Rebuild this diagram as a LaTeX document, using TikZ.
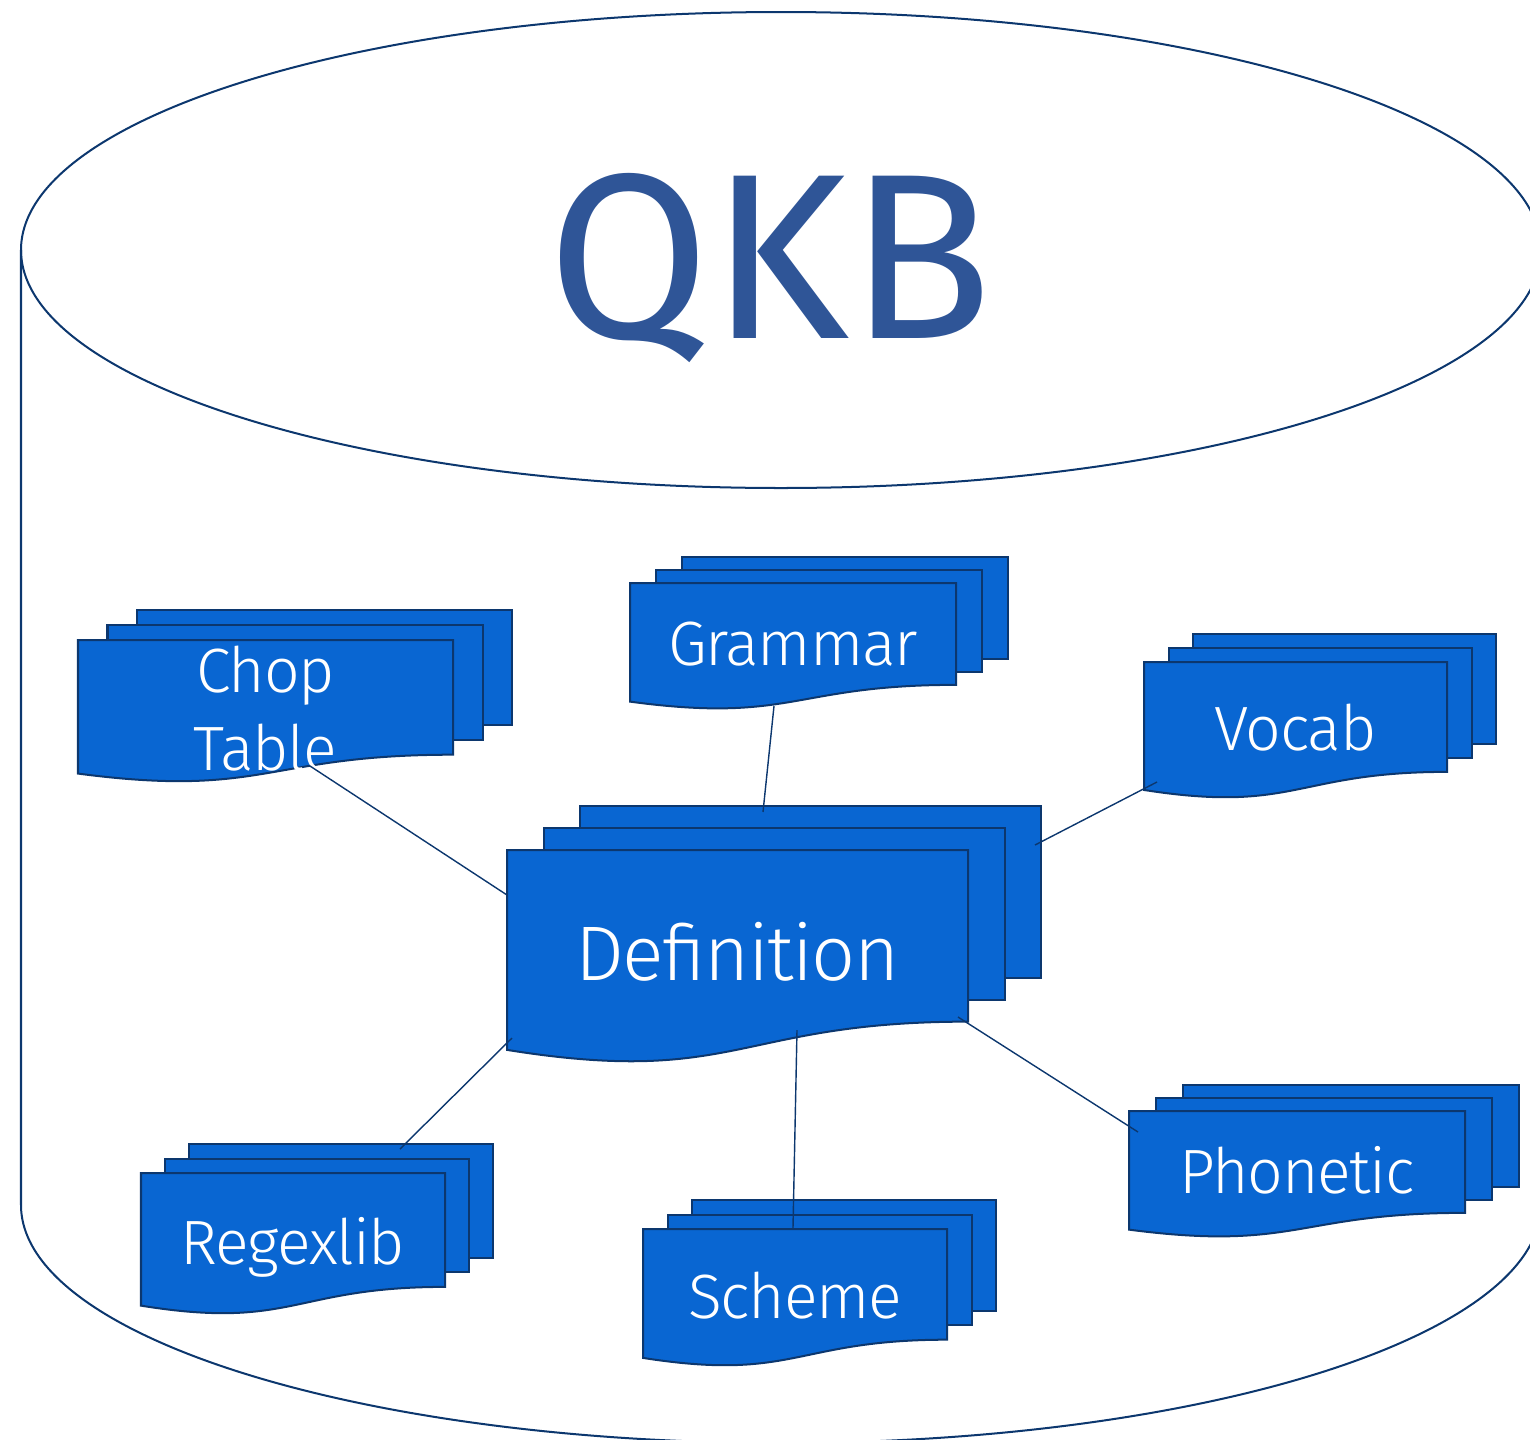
\documentclass[tikz,border=0pt]{standalone}
\usepackage{fontspec}
\setmainfont{Fira Sans}
\newfontfamily\lightfont{Fira Sans Light}[LetterSpace=-2]
\usetikzlibrary{calc}
\definecolor{docblue}{RGB}{9,102,210}
\definecolor{navy}{RGB}{12,55,110}
\definecolor{titleblue}{RGB}{47,85,151}
\tikzset{every picture/.style={line width=0.57pt}}
\tikzset{
  sheet/.style={draw=navy, fill=docblue, line join=miter},
  doclabel/.style={text=white, font=\lightfont\fontsize{17.8}{21.9}\selectfont, anchor=base, align=center, inner sep=0pt},
  link/.style={draw=navy, line width=0.4pt},
}
% 多文档: 名称, 左上角 x, y, 宽, 高, 偏移 dx, dy, 文字, 基线 y
\newcommand{\docstack}[9]{%
  \foreach \k in {2,1}
    \draw[sheet] ({#2+\k*#6},{#3-\k*#7}) rectangle ++(#4,{0.802*#5});
  \draw[sheet] (#2,#3) -- ({#2+#4},#3) -- ({#2+#4},{#3+0.802*#5})
    .. controls ({#2+0.5*#4},{#3+0.802*#5}) and ({#2+0.5*#4},{#3+1.107*#5}) .. (#2,{#3+0.934*#5}) -- cycle;
  \node[doclabel] (#1) at ({#2+0.5*#4},#9) {#8};
}

\begin{document}
\begin{tikzpicture}[x=0.01cm, y=-0.01cm]
    \useasboundingbox (0,0) rectangle (1530,1439);
    % 数据库圆柱
    \begin{scope}
        \clip (0,0) rectangle (1530,1439);
        \draw[navy] (21,250) -- (21,1205) arc[start angle=180, end angle=0, x radius=760, y radius=238] -- (1541,250);
        \draw[navy] (781,250) ellipse [x radius=760, y radius=238];
    \end{scope}
    \node[font=\fontsize{67}{80}\selectfont, text=titleblue, anchor=base, inner sep=0pt] (qkb) at (770,338) {QKB};
    % 文档堆叠
    \docstack{def}{507}{850}{461}{214}{36.5}{22}{\fontsize{22}{27}\selectfont Definition}{980}
    \docstack{chop}{78}{640}{375}{143}{29.5}{15}{Chop\\Table}{770}
    \docstack{gram}{630}{583}{326}{127}{26}{13}{Grammar}{665}
    \docstack{vocab}{1144}{662}{303}{137}{24.5}{14}{Vocab}{750}
    \docstack{regex}{141}{1173}{304}{142}{24}{14.5}{Regexlib}{1264}
    \docstack{scheme}{643}{1229}{304}{138}{24.5}{14.5}{Scheme}{1318}
    \docstack{phon}{1129}{1111}{336}{127}{27}{13}{Phonetic}{1193}
    % 连线端点
    \coordinate (chop-e) at (310,766);   \coordinate (def-w) at (507,895);
    \coordinate (gram-e) at (774,706);   \coordinate (def-n) at (763,812);
    \coordinate (vocab-e) at (1157,782); \coordinate (def-ne) at (1035,845);
    \coordinate (regex-e) at (400,1149); \coordinate (def-sw) at (512,1038);
    \coordinate (scheme-e) at (793,1228); \coordinate (def-s) at (797,1030);
    \coordinate (phon-e) at (1138,1132); \coordinate (def-se) at (958,1017);
    % 连线
    \draw[link] (chop-e) -- (def-w);
    \draw[link] (gram-e) -- (def-n);
    \draw[link] (vocab-e) -- (def-ne);
    \draw[link] (regex-e) -- (def-sw);
    \draw[link] (scheme-e) -- (def-s);
    \draw[link] (phon-e) -- (def-se);
\end{tikzpicture}
\end{document}
